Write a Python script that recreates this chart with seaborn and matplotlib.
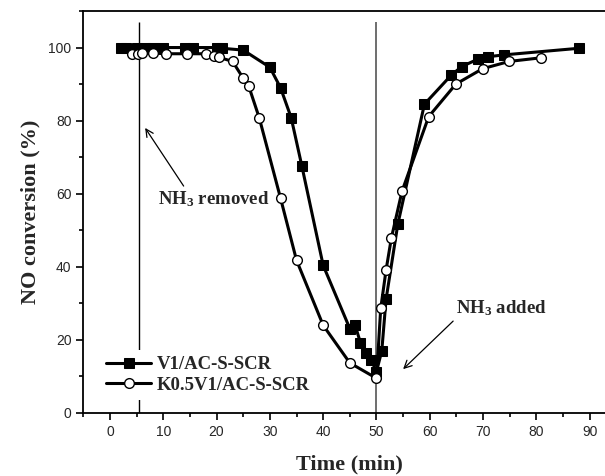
import numpy as np
import pandas as pd
import matplotlib
matplotlib.use("Agg")
import matplotlib.pyplot as plt
import seaborn as sns
from matplotlib.ticker import MultipleLocator

# V1/AC-S-SCR (filled squares)
v1_time = [2, 3, 5, 6.5, 8, 10, 14, 15.5, 20, 21, 25, 30, 32, 34, 36, 40,
           45, 46, 47, 48, 49, 50, 51, 51.8, 54, 59, 64, 66, 69, 71, 74, 88]
v1_conv = [100, 100, 100, 100, 100, 100, 100, 100, 100, 99.8, 99.3, 94.6, 89, 80.8, 67.6, 40.4,
           23.1, 24.0, 19.2, 16.3, 14.5, 11.3, 17.0, 31.1, 51.6, 84.5, 92.4, 94.8, 96.8, 97.5, 98.0, 99.8]

# K0.5V1/AC-S-SCR (open circles)
k_time = [4.2, 5.2, 6, 8, 10.5, 14.5, 18, 19.5, 20.5, 23, 25, 26, 28, 32, 35, 40,
          45, 50, 50.8, 51.8, 52.8, 54.8, 59.8, 64.9, 69.9, 74.9, 80.9]
k_conv = [98.3, 98.3, 98.5, 98.5, 98.3, 98.3, 98.3, 97.8, 97.3, 96.2, 91.6, 89.6, 80.8, 58.8, 41.8, 24.0,
          13.7, 9.5, 28.6, 39.1, 47.9, 60.7, 81.1, 90.0, 94.2, 96.2, 97.2]

sns.set_style("ticks")
plt.rcParams['font.family'] = ['Liberation Sans', 'DejaVu Sans']
plt.rcParams['mathtext.fontset'] = 'custom'
plt.rcParams['mathtext.rm'] = 'Liberation Serif:bold'
plt.rcParams['mathtext.it'] = 'Liberation Serif:bold'
plt.rcParams['mathtext.bf'] = 'Liberation Serif:bold'

fig = plt.figure(figsize=(6.05, 4.76), dpi=100)
ax = fig.add_axes([0.1377, 0.1324, 0.881, 0.8445])

# event lines
ax.vlines(5.5, 0, 107, color='black', linewidth=1.0, zorder=1)
ax.vlines(50, 0, 107, color='#555555', linewidth=1.2, zorder=1)

sns.lineplot(x=v1_time, y=v1_conv, ax=ax, color='black', linewidth=2.2,
             marker='s', markersize=6.5, markerfacecolor='black', markeredgecolor='black',
             label='V1/AC-S-SCR', sort=False, zorder=3)
sns.lineplot(x=k_time, y=k_conv, ax=ax, color='black', linewidth=2.2,
             marker='o', markersize=7, markerfacecolor='white', markeredgecolor='black',
             markeredgewidth=1.0, label='K0.5V1/AC-S-SCR', sort=False, zorder=4)

ax.set_xlim(-5, 95)
ax.set_ylim(0, 110)
ax.xaxis.set_major_locator(MultipleLocator(10))
ax.xaxis.set_minor_locator(MultipleLocator(5))
ax.yaxis.set_major_locator(MultipleLocator(20))
ax.yaxis.set_minor_locator(MultipleLocator(10))
ax.set_xticks(np.arange(0, 100, 10))
ax.tick_params(which='major', direction='out', length=5, width=1.2, labelsize=10, color='black')
ax.tick_params(which='minor', direction='out', length=3, width=1.2, color='black')

for s in ['left', 'bottom', 'top', 'right']:
    ax.spines[s].set_visible(True)
    ax.spines[s].set_linewidth(1.3)
    ax.spines[s].set_color('black')

serif = ['Liberation Serif', 'DejaVu Serif']
ax.set_xlabel('Time (min)', fontsize=16, fontweight='bold', family=serif, labelpad=11)
ax.set_ylabel('NO conversion (%)', fontsize=16, fontweight='bold', family=serif, labelpad=6)

ax.annotate('NH$_3$ removed', xy=(6.6, 78), xytext=(9, 58.5),
            fontsize=13.5, fontweight='bold', family=serif, va='center', ha='left',
            arrowprops=dict(arrowstyle='->', color='black', lw=0.9, shrinkA=0, shrinkB=0,
                            relpos=(0.25, 1.0)))
ax.annotate('NH$_3$ added', xy=(55, 12), xytext=(65, 28.7),
            fontsize=13.5, fontweight='bold', family=serif, va='center', ha='left',
            arrowprops=dict(arrowstyle='->', color='black', lw=0.9, shrinkA=0, shrinkB=0,
                            relpos=(0.0, 0.0)))

leg = ax.legend(loc='lower left', bbox_to_anchor=(0.015, 0.01), frameon=True,
                prop={'family': serif, 'weight': 'bold', 'size': 13.5},
                handlelength=2.4, handletextpad=0.3, borderpad=0.3, labelspacing=0.2)
leg.get_frame().set_edgecolor('none')
leg.get_frame().set_facecolor('white')
leg.get_frame().set_alpha(1.0)

fig.savefig('out.png', dpi=100)
